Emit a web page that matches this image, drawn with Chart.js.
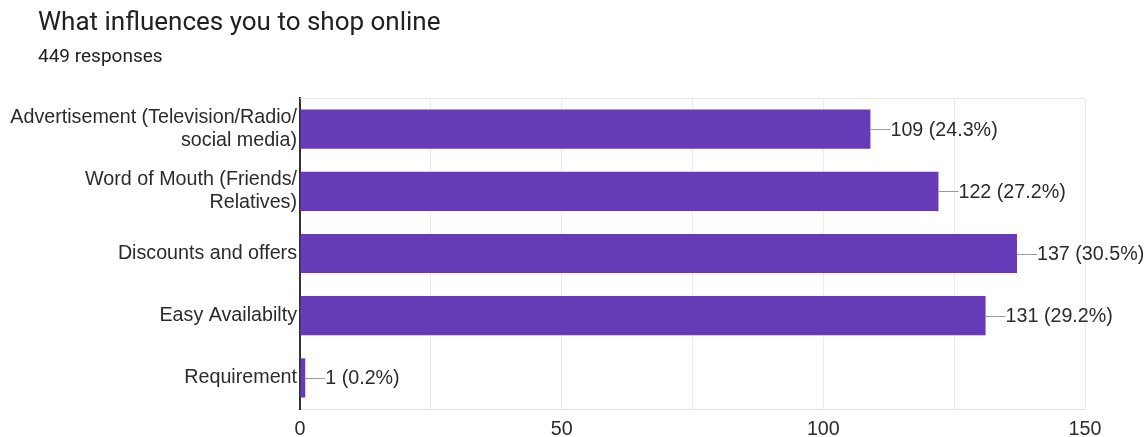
<!DOCTYPE html>
<html>
<head>
<meta charset="utf-8">
<script src="https://cdn.jsdelivr.net/npm/chart.js@4"></script>
<style>
  html, body { margin: 0; padding: 0; background: #fff; }
  #wrap { position: relative; width: 1147px; height: 437px; }
  #title { position: absolute; left: 38px; top: 6px; font: 26px Roboto, "Liberation Sans", sans-serif; color: #202124; }
  #sub { position: absolute; left: 38px; top: 44px; font: 19px Roboto, "Liberation Sans", sans-serif; color: #202124; }
  canvas { position: absolute; left: 0; top: 0; }
</style>
</head>
<body>
<div id="wrap">
  <canvas id="chart" width="1147" height="437"></canvas>
  <div id="title">What influences you to shop online</div>
  <div id="sub">449 responses</div>
</div>
<script>
// 数据
const categories = [
    ['Advertisement (Television/Radio/', 'social media)'],
    ['Word of Mouth (Friends/', 'Relatives)'],
    'Discounts and offers',
    'Easy Availabilty',
    'Requirement'
];
const counts = [109, 122, 137, 131, 1];
const percents = ['24.3%', '27.2%', '30.5%', '29.2%', '0.2%'];
const xTicks = [0, 50, 100, 150];

const labelFont = '"Liberation Sans", Arial, sans-serif';
const textColor = '#2b2b2b';

// 外框
const framePlugin = {
    id: 'frame',
    beforeDatasetsDraw(chart) {
        const { ctx, chartArea: a } = chart;
        ctx.save();
        ctx.strokeStyle = '#e6e6e6';
        ctx.lineWidth = 1;
        ctx.beginPath();
        ctx.moveTo(a.left, a.top + 0.5);
        ctx.lineTo(a.right, a.top + 0.5);
        ctx.stroke();
        ctx.restore();
    }
};

// 数值标签
const valueLabels = {
    id: 'valueLabels',
    afterDatasetsDraw(chart) {
        const { ctx } = chart;
        const meta = chart.getDatasetMeta(0);
        ctx.save();
        ctx.font = '19.7px ' + labelFont;
        ctx.textBaseline = 'middle';
        meta.data.forEach((bar, i) => {
            const x = bar.x, y = bar.y;
            ctx.strokeStyle = '#999';
            ctx.lineWidth = 1;
            ctx.beginPath();
            ctx.moveTo(x, Math.round(y) + 0.5);
            ctx.lineTo(x + 20, Math.round(y) + 0.5);
            ctx.stroke();
            ctx.fillStyle = textColor;
            ctx.fillText(counts[i] + ' (' + percents[i] + ')', x + 20, y + 1);
        });
        ctx.restore();
    }
};

new Chart(document.getElementById('chart').getContext('2d'), {
    type: 'bar',
    data: {
        labels: categories,
        datasets: [{
            data: counts,
            backgroundColor: '#673ab7',
            borderWidth: 0,
            barPercentage: 0.63,
            categoryPercentage: 1
        }]
    },
    options: {
        indexAxis: 'y',
        responsive: false,
        animation: false,
        layout: { padding: { top: 98, right: 62, left: 0, bottom: 0 } },
        plugins: { legend: { display: false }, tooltip: { enabled: false } },
        scales: {
            x: {
                min: 0,
                max: 150,
                afterFit(scale) { scale.height = 28; },
                afterBuildTicks(scale) {
                    scale.ticks = [0, 25, 50, 75, 100, 125, 150].map(v => ({ value: v }));
                },
                ticks: {
                    padding: 9,
                    color: textColor,
                    font: { family: labelFont, size: 19.7 },
                    callback: v => xTicks.includes(v) ? String(v) : ''
                },
                grid: { color: '#ebebeb', drawTicks: false },
                border: { color: '#e0e0e0' }
            },
            y: {
                afterFit(scale) { scale.width = 300; },
                ticks: {
                    padding: 3,
                    color: textColor,
                    font: { family: labelFont, size: 19.7, lineHeight: 1.17 }
                },
                grid: { display: false, drawTicks: false },
                border: { color: '#333', width: 2 }
            }
        }
    },
    plugins: [framePlugin, valueLabels]
});
</script>
</body>
</html>
